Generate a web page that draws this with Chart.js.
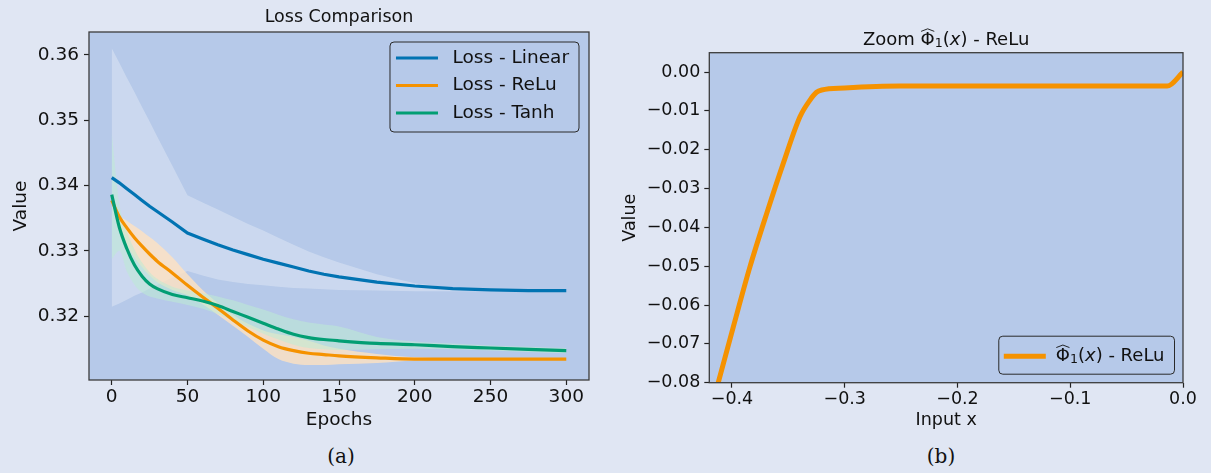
<!DOCTYPE html>
<html>
<head>
<meta charset="utf-8">
<title>Loss comparison / zoom</title>
<script src="https://cdn.jsdelivr.net/npm/chart.js@4.4.1/dist/chart.umd.min.js"></script>
<style>
  html, body { margin: 0; padding: 0; }
  body { width: 1211px; height: 473px; background: #e0e6f3; position: relative; overflow: hidden; }
  .box { position: absolute; top: 0; }
  #boxA { left: 0; width: 600px; height: 431px; }
  #boxB { left: 600px; width: 611px; height: 431px; }
  .cap { position: absolute; top: 444px; line-height: 22px; font: 20px 'DejaVu Serif', serif; color: #111; transform: translateX(-50%); }
</style>
</head>
<body>
<div class="box" id="boxA"><canvas id="lossChart"></canvas></div>
<div class="box" id="boxB"><canvas id="zoomChart"></canvas></div>
<div class="cap" style="left:341px">(a)</div>
<div class="cap" style="left:941px">(b)</div>
<script>
  // (a) loss curves, mean with min/max band
  const epochs = [0, 5, 10, 15, 20, 25, 30, 40, 50, 60, 70, 80, 90, 100, 110, 120, 130, 140, 150, 175, 200, 225, 250, 275, 300];

  const lossLinear = [0.3412, 0.3404, 0.3395, 0.3386, 0.3377, 0.3368, 0.3360, 0.3344, 0.3327, 0.3318, 0.3309, 0.3301, 0.3294, 0.3287, 0.3281, 0.3275, 0.3269, 0.3264, 0.3260, 0.3252, 0.3246, 0.3242, 0.3240, 0.3239, 0.3239];
  const linearHi   = [0.3610, 0.3588, 0.3565, 0.3543, 0.3520, 0.3498, 0.3475, 0.3430, 0.3385, 0.3374, 0.3363, 0.3352, 0.3341, 0.3331, 0.3320, 0.3309, 0.3299, 0.3290, 0.3282, 0.3264, 0.3250, 0.3243, 0.3241, 0.3240, 0.3240];
  const linearLo   = [0.3214, 0.3219, 0.3225, 0.3231, 0.3236, 0.3242, 0.3248, 0.3259, 0.3269, 0.3262, 0.3256, 0.3252, 0.3249, 0.3247, 0.3245, 0.3243, 0.3242, 0.3241, 0.3240, 0.3239, 0.3238, 0.3238, 0.3238, 0.3238, 0.3238];

  const lossRelu = [0.3377, 0.3352, 0.3335, 0.3320, 0.3307, 0.3295, 0.3284, 0.3266, 0.3247, 0.3229, 0.3212, 0.3194, 0.3177, 0.3163, 0.3153, 0.3147, 0.3143, 0.3141, 0.3139, 0.3136, 0.3134, 0.3134, 0.3134, 0.3134, 0.3134];
  const reluHi   = [0.3380, 0.3355, 0.3346, 0.3338, 0.3330, 0.3321, 0.3312, 0.3290, 0.3264, 0.3240, 0.3220, 0.3202, 0.3188, 0.3178, 0.3172, 0.3168, 0.3162, 0.3155, 0.3150, 0.3142, 0.3137, 0.3135, 0.3134, 0.3134, 0.3134];
  const reluLo   = [0.3372, 0.3340, 0.3310, 0.3290, 0.3275, 0.3262, 0.3252, 0.3240, 0.3232, 0.3218, 0.3202, 0.3185, 0.3168, 0.3150, 0.3134, 0.3127, 0.3125, 0.3125, 0.3126, 0.3128, 0.3132, 0.3133, 0.3134, 0.3134, 0.3134];

  const lossTanh = [0.3386, 0.3336, 0.3303, 0.3278, 0.3261, 0.3249, 0.3242, 0.3233, 0.3228, 0.3223, 0.3216, 0.3207, 0.3198, 0.3189, 0.3180, 0.3172, 0.3167, 0.3164, 0.3162, 0.3158, 0.3156, 0.3153, 0.3151, 0.3149, 0.3147];
  const tanhHi   = [0.3480, 0.3372, 0.3330, 0.3302, 0.3282, 0.3267, 0.3257, 0.3245, 0.3239, 0.3235, 0.3230, 0.3224, 0.3217, 0.3210, 0.3202, 0.3195, 0.3190, 0.3187, 0.3184, 0.3168, 0.3161, 0.3158, 0.3155, 0.3153, 0.3151];
  const tanhLo   = [0.3287, 0.3300, 0.3268, 0.3248, 0.3236, 0.3230, 0.3227, 0.3222, 0.3217, 0.3211, 0.3203, 0.3193, 0.3183, 0.3173, 0.3164, 0.3156, 0.3151, 0.3149, 0.3148, 0.3149, 0.3150, 0.3149, 0.3147, 0.3145, 0.3143];

  const lossTicksX = [0, 50, 100, 150, 200, 250, 300];
  const lossTicksY = [0.32, 0.33, 0.34, 0.35, 0.36];

  // (b) zoom of phi_1 for ReLU
  const phiX = [-0.4200, -0.4122, -0.3988, -0.3840, -0.3692, -0.3545, -0.3397, -0.3308, -0.3250, -0.3204, -0.3000, -0.2509, -0.2000, -0.1000, -0.0140, 0.0000];
  const phiY = [-0.0880, -0.0800, -0.0656, -0.0501, -0.0364, -0.0235, -0.0115, -0.0072, -0.0052, -0.0046, -0.0041, -0.0036, -0.0036, -0.0036, -0.0036, 0.0000];

  const phiTicksX = [-0.4, -0.3, -0.2, -0.1, 0.0];
  const phiTicksY = [0.00, -0.01, -0.02, -0.03, -0.04, -0.05, -0.06, -0.07, -0.08];

  const BLUE = '#0173b2', ORANGE = '#f59200', GREEN = '#029e73';
  const INK = '#111';

  Chart.defaults.font.family = '"DejaVu Sans", sans-serif';
  Chart.defaults.color = INK;

  const phiLabel = [{ t: 'Φ', hat: true }, { t: '1', sub: true }, { t: '(' }, { t: 'x', it: true }, { t: ') - ReLu' }];

  function segFont(s, size) {
    const fs = s.sub ? size * 0.7 : size;
    return (s.it ? 'oblique ' : '') + fs + 'px "DejaVu Sans"';
  }
  function richWidth(ctx, segs, size) {
    let w = 0;
    segs.forEach(s => { ctx.font = segFont(s, size); w += ctx.measureText(s.t).width; });
    return w;
  }
  // text is drawn with textBaseline 'middle'
  function drawRich(ctx, segs, x, y, size) {
    ctx.textAlign = 'left';
    segs.forEach(s => {
      ctx.font = segFont(s, size);
      const w = ctx.measureText(s.t).width;
      ctx.fillText(s.t, x, y + (s.sub ? size * 0.22 : 0));
      if (s.hat) {
        const top = y - size * 0.42;
        ctx.save();
        ctx.strokeStyle = ctx.fillStyle;
        ctx.lineWidth = 0.9;
        ctx.beginPath();
        ctx.moveTo(x + 0.5, top - size * 0.06);
        ctx.lineTo(x + w / 2, top - size * 0.2);
        ctx.lineTo(x + w - 0.5, top - size * 0.06);
        ctx.stroke();
        ctx.restore();
      }
      x += w;
    });
  }

  const frame = {
    id: 'frame',
    beforeDraw(chart) {
      const { ctx, chartArea: a } = chart;
      ctx.save();
      ctx.fillStyle = '#b6c9e9';
      ctx.fillRect(a.left, a.top, a.width, a.height);
      ctx.restore();
    },
    afterDatasetsDraw(chart) {
      const { ctx, chartArea: a } = chart;
      ctx.save();
      ctx.strokeStyle = '#3c3c3c';
      ctx.lineWidth = 1.3;
      ctx.strokeRect(a.left, a.top, a.width, a.height);
      ctx.restore();
    }
  };

  // matplotlib-like legend box inside the axes
  const boxLegend = {
    id: 'boxLegend',
    afterDatasetsDraw(chart, args, o) {
      const { ctx, chartArea: a } = chart;
      let items = chart.data.datasets.filter(d => d.legend);
      if (o.reverse) items = items.reverse();
      ctx.save();
      ctx.textBaseline = 'middle';
      const w = o.textX + Math.max(...items.map(d => richWidth(ctx, d.legend, o.size))) + o.padR;
      const h = o.padT + (items.length - 1) * o.rowH + o.padB;
      const x = a.right - o.inset - w;
      const y = o.corner === 'top' ? a.top + o.inset : a.bottom - o.inset - h;
      ctx.beginPath();
      ctx.roundRect(x, y, w, h, 4);
      ctx.fillStyle = 'rgba(182,201,233,0.85)';
      ctx.fill();
      ctx.strokeStyle = '#2a2a2a';
      ctx.lineWidth = 1;
      ctx.stroke();
      items.forEach((d, i) => {
        const cy = y + o.padT + i * o.rowH;
        ctx.strokeStyle = d.borderColor;
        ctx.lineWidth = d.borderWidth;
        ctx.beginPath();
        ctx.moveTo(x + o.swX, cy);
        ctx.lineTo(x + o.swX + o.swLen, cy);
        ctx.stroke();
        ctx.fillStyle = INK;
        drawRich(ctx, d.legend, x + o.textX, cy, o.size);
      });
      ctx.restore();
    }
  };

  const richTitle = {
    id: 'richTitle',
    afterDraw(chart, args, o) {
      if (!o.segs) return;
      const { ctx, chartArea: a } = chart;
      ctx.save();
      ctx.textBaseline = 'middle';
      ctx.fillStyle = INK;
      const w = richWidth(ctx, o.segs, o.size);
      drawRich(ctx, o.segs, (a.left + a.right) / 2 - w / 2, o.y, o.size);
      ctx.restore();
    }
  };

  function pts(xs, ys) {
    return xs.map((x, i) => ({ x: x, y: ys[i] }));
  }

  function axis(min, max, ticks, fmt, title, size, fit, titlePad) {
    return {
      type: 'linear',
      min: min,
      max: max,
      afterBuildTicks: s => { s.ticks = ticks.map(v => ({ value: v })); },
      afterFit: fit,
      ticks: { font: { size: size }, color: INK, autoSkip: false, maxRotation: 0, padding: 3, callback: fmt },
      grid: { drawOnChartArea: false, drawTicks: true, tickLength: 5, tickWidth: 1.2, color: '#222' },
      border: { display: false },
      title: { display: true, text: title, color: INK, font: { size: size }, padding: titlePad }
    };
  }

  const minus = s => s.replace('-', '\u2212');

  function line(label, data, color, width, legend, smooth) {
    return {
      label: label, data: data, borderColor: color, borderWidth: width,
      pointRadius: 0, fill: false, legend: legend,
      cubicInterpolationMode: smooth ? 'monotone' : 'default', tension: 0
    };
  }
  function band(data, fill, color, smooth) {
    return {
      label: 'band', data: data, borderWidth: 0, borderColor: 'rgba(0,0,0,0)',
      backgroundColor: color, pointRadius: 0, fill: fill,
      cubicInterpolationMode: smooth ? 'monotone' : 'default', tension: 0
    };
  }

  const xA = axis(-15, 315, lossTicksX, v => String(v), 'Epochs', 18.5, s => { s.height = 51; }, 0);
  xA.ticks.padding = 1;
  const yA = axis(0.3102, 0.3635, lossTicksY, v => v.toFixed(2), 'Value', 18.5, s => { s.width = 89; }, { top: 10, bottom: 0 });
  yA.ticks.padding = 5;

  new Chart(document.getElementById('lossChart'), {
    type: 'line',
    data: {
      datasets: [
        line('Loss - Tanh', pts(epochs, lossTanh), GREEN, 3.2, [{ t: 'Loss - Tanh' }], true),
        line('Loss - ReLu', pts(epochs, lossRelu), ORANGE, 3.2, [{ t: 'Loss - ReLu' }], true),
        line('Loss - Linear', pts(epochs, lossLinear), BLUE, 3.2, [{ t: 'Loss - Linear' }], false),
        band(pts(epochs, tanhHi), '+1', 'rgba(190,235,212,0.55)', true),
        band(pts(epochs, tanhLo), false, 'rgba(0,0,0,0)', true),
        band(pts(epochs, reluHi), '+1', 'rgba(255,226,192,0.8)', true),
        band(pts(epochs, reluLo), false, 'rgba(0,0,0,0)', true),
        band(pts(epochs, linearHi), '+1', 'rgba(235,240,248,0.4)', false),
        band(pts(epochs, linearLo), false, 'rgba(0,0,0,0)', false)
      ]
    },
    options: {
      responsive: true,
      maintainAspectRatio: false,
      animation: false,
      layout: { padding: { right: 11 } },
      scales: { x: xA, y: yA },
      plugins: {
        legend: { display: false },
        tooltip: { enabled: false },
        title: {
          display: true, text: 'Loss Comparison', fullSize: false, color: INK,
          font: { size: 17.5, weight: 'normal' }, padding: { top: 7, bottom: 4 }
        },
        boxLegend: {
          corner: 'top', inset: 10, size: 18.5, swX: 6, swLen: 42, textX: 62.5,
          padT: 16, rowH: 27.5, padB: 19, padR: 10, reverse: true
        }
      }
    },
    plugins: [frame, boxLegend, richTitle]
  });

  const xB = axis(-0.4201, 0, phiTicksX, v => minus(v.toFixed(1)), 'Input x', 17.5, s => { s.height = 48.3; }, 0);
  xB.ticks.padding = 1;
  const yB = axis(-0.08, 0.005, phiTicksY, v => minus(v.toFixed(2)), 'Value', 17.5, s => { s.width = 109.3; }, { top: 20, bottom: 0 });
  yB.ticks.padding = 4;

  new Chart(document.getElementById('zoomChart'), {
    type: 'line',
    data: {
      datasets: [
        Object.assign(line('Φ̂1(x) - ReLu', pts(phiX, phiY), ORANGE, 5, phiLabel, true), { clip: 0 })
      ]
    },
    options: {
      responsive: true,
      maintainAspectRatio: false,
      animation: false,
      layout: { padding: { top: 52.7, right: 28 } },
      scales: { x: xB, y: yB },
      plugins: {
        legend: { display: false },
        tooltip: { enabled: false },
        richTitle: { segs: [{ t: 'Zoom ' }].concat(phiLabel), y: 40, size: 18 },
        boxLegend: {
          corner: 'bottom', inset: 8.5, size: 18, swX: 5, swLen: 42, textX: 57,
          padT: 20, rowH: 0, padB: 18, padR: 10
        }
      }
    },
    plugins: [frame, boxLegend, richTitle]
  });
</script>
</body>
</html>
